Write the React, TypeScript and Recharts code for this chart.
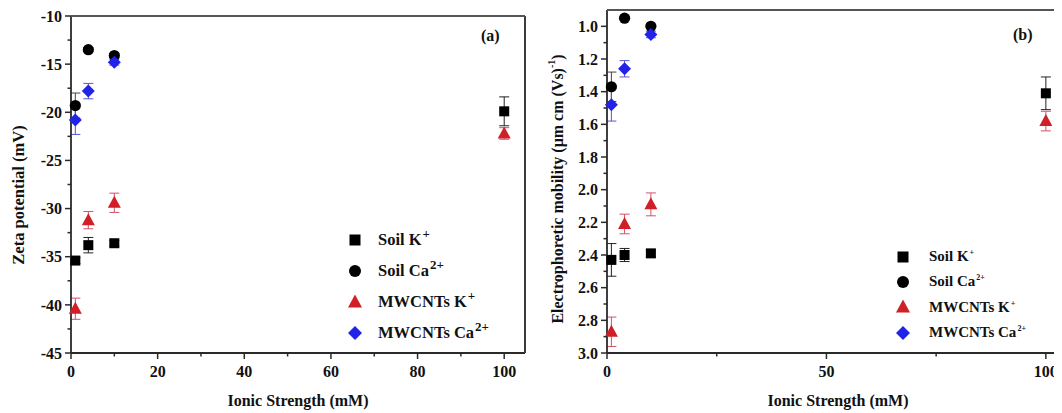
import React from 'react';
import { ScatterChart, Scatter, XAxis, YAxis, ErrorBar, Legend, ReferenceLine } from 'recharts';

const FONT = '"Liberation Serif", "Times New Roman", serif';
const RED = '#d01f26';
const BLUE = '#2323e8';
const AXIS = '#2a2a2a';

// ---- Panel (a): zeta potential ----
const ionicK = [1, 4, 10, 100];
const ionicCa = [1, 4, 10];
const soilKZeta = [-35.4, -33.8, -33.6, -19.9];
const soilKZetaErr = [0.3, 0.8, 0.3, 1.5];
const soilCaZeta = [-19.3, -13.5, -14.1];
const soilCaZetaErr = [1.3, 0.2, 0.2];
const mwKZeta = [-40.4, -31.2, -29.4, -22.2];
const mwKZetaErr = [1.1, 0.9, 1.0, 0.6];
const mwCaZeta = [-20.8, -17.8, -14.8];
const mwCaZetaErr = [1.5, 0.8, 0.3];

// ---- Panel (b): electrophoretic mobility ----
const soilKMob = [2.43, 2.4, 2.39, 1.41];
const soilKMobErr = [0.1, 0.04, 0.02, 0.1];
const soilCaMob = [1.37, 0.95, 1.0];
const soilCaMobErr = [0.09, 0.01, 0.01];
const mwKMob = [2.87, 2.21, 2.09, 1.58];
const mwKMobErr = [0.09, 0.06, 0.07, 0.06];
const mwCaMob = [1.48, 1.26, 1.05];
const mwCaMobErr = [0.1, 0.05, 0.02];

// ---- ticks ----
const xMajorA = [0, 20, 40, 60, 80, 100];
const xMinorA = [10, 30, 50, 70, 90];
const yMajorA = [-10, -15, -20, -25, -30, -35, -40, -45];
const yMinorA = [-12.5, -17.5, -22.5, -27.5, -32.5, -37.5, -42.5];
const xMajorB = [0, 50, 100];
const xMinorB = [25, 75];
const yMajorB = [1.0, 1.2, 1.4, 1.6, 1.8, 2.0, 2.2, 2.4, 2.6, 2.8, 3.0];
const yMinorB = [1.1, 1.3, 1.5, 1.7, 1.9, 2.1, 2.3, 2.5, 2.7, 2.9];

// layout constants for each panel (chart box and plot margins)
const CHART_W = 540;
const CHART_H = 413;
const X_H = 60;
const A_MARGIN = { top: 16, right: 15, bottom: 0, left: 0 };
const A_YW = 71;
const B_MARGIN = { top: 10, right: 10, bottom: 0, left: 0 };
const B_YW = 67;
const A_PLOT_W = CHART_W - A_MARGIN.right - A_MARGIN.left - A_YW;
const A_PLOT_H = CHART_H - X_H - A_MARGIN.top;
const B_PLOT_W = CHART_W - B_MARGIN.right - B_MARGIN.left - B_YW;

const build = (xs: number[], ys: number[], es: number[]) =>
  xs.map((x, i) => ({ x, y: ys[i], e: es[i] }));

const near = (a: number, b: number) => Math.abs(a - b) < 1e-6;
const isMajor = (majors: number[], v: number) => majors.some((m) => near(m, v));
const sortNum = (...lists: number[][]) => ([] as number[]).concat(...lists).sort((p, q) => p - q);

type Frame = { topVal: number; bottomVal?: number; plotW: number; plotH?: number };

const makeYTick = (majors: number[], fmt: (v: number) => string, frame: Frame) => (props: any) => {
  const { x, y, payload } = props;
  const v = payload.value as number;
  const major = isMajor(majors, v);
  const isTopFrame = near(v, frame.topVal);
  const isBottomFrame = frame.bottomVal !== undefined && near(v, frame.bottomVal);
  const onlyFrame = isTopFrame && !major;
  return (
    <g>
      {!onlyFrame && (
        <line x1={x} x2={x - (major ? 6 : 3.5)} y1={y} y2={y} stroke={AXIS} strokeWidth={1.5} />
      )}
      {isTopFrame && <line x1={x} x2={x + frame.plotW} y1={y} y2={y} stroke="#555" strokeWidth={2.2} />}
      {isBottomFrame && frame.plotH !== undefined && (
        <line x1={x + frame.plotW} x2={x + frame.plotW} y1={y} y2={y - frame.plotH} stroke="#3a3a3a" strokeWidth={1.8} />
      )}
      {major && (
        <text x={x - 9} y={y} dy="0.36em" textAnchor="end" fontFamily={FONT} fontWeight="bold" fontSize={16} fill="#111">
          {fmt(v)}
        </text>
      )}
    </g>
  );
};

const makeXTick = (majors: number[]) => (props: any) => {
  const { x, y, payload } = props;
  const major = isMajor(majors, payload.value);
  return (
    <g>
      <line x1={x} x2={x} y1={y} y2={y + (major ? 6 : 3.5)} stroke={AXIS} strokeWidth={1.5} />
      {major && (
        <text x={x} y={y + 24} textAnchor="middle" fontFamily={FONT} fontWeight="bold" fontSize={16} fill="#111">
          {payload.value}
        </text>
      )}
    </g>
  );
};

const SquareShape = (p: any) => <rect x={p.cx - 5} y={p.cy - 5} width={10} height={10} fill="#000" />;
const CircleShape = (p: any) => <circle cx={p.cx} cy={p.cy} r={5.6} fill="#000" />;
const TriShape = (p: any) => (
  <polygon points={`${p.cx},${p.cy - 7} ${p.cx + 6.5},${p.cy + 5} ${p.cx - 6.5},${p.cy + 5}`} fill={RED} />
);
const DiamondShape = (p: any) => (
  <polygon points={`${p.cx},${p.cy - 6.5} ${p.cx + 6.5},${p.cy} ${p.cx},${p.cy + 6.5} ${p.cx - 6.5},${p.cy}`} fill={BLUE} />
);

const legendIcons = [
  <rect key="s" x={6.5} y={6.5} width={11} height={11} fill="#000" />,
  <circle key="c" cx={12} cy={12} r={6} fill="#000" />,
  <polygon key="t" points="12,4.5 19,17.5 5,17.5" fill={RED} />,
  <polygon key="d" points="12,5 19,12 12,19 5,12" fill={BLUE} />,
];

const legendBase = ['Soil K', 'Soil Ca', 'MWCNTs K', 'MWCNTs Ca'];
const legendSup = ['+', '2+', '+', '2+'];

const makeLegend = (rowH: number, fontSize: number, supSize: number, supRaise: number, gap: number) => () => (
  <div style={{ fontFamily: FONT, fontWeight: 'bold', color: '#111' }}>
    {legendBase.map((t, i) => (
      <div key={t} style={{ display: 'flex', alignItems: 'center', height: rowH }}>
        <svg width={24} height={24} style={{ display: 'block' }}>{legendIcons[i]}</svg>
        <span style={{ marginLeft: gap, fontSize, whiteSpace: 'nowrap' }}>
          {t}
          <span style={{ fontSize: supSize, position: 'relative', top: -supRaise, marginLeft: 1 }}>{legendSup[i]}</span>
        </span>
      </div>
    ))}
  </div>
);

const ZetaLabel = () => (
  <text x={18} y={195} transform="rotate(-90 18 195)" textAnchor="middle" dominantBaseline="central" fontFamily={FONT} fontWeight="bold" fontSize={16.5} fill="#111">
    Zeta potential (mV)
  </text>
);

const MobLabel = () => (
  <text x={17} y={189} transform="rotate(-90 17 189)" textAnchor="middle" dominantBaseline="central" fontFamily={FONT} fontWeight="bold" fontSize={16} fill="#111">
    Electrophoretic mobility (μm cm (Vs)
    <tspan fontSize={10} dy={-6}>-1</tspan>
    <tspan dy={6}>)</tspan>
  </text>
);

const XLabel = () => (
  <text x={298} y={406} textAnchor="middle" fontFamily={FONT} fontWeight="bold" fontSize={16} fill="#111">
    Ionic Strength (mM)
  </text>
);

export default function App() {
  const dataSoilKA = build(ionicK, soilKZeta, soilKZetaErr);
  const dataSoilCaA = build(ionicCa, soilCaZeta, soilCaZetaErr);
  const dataMwKA = build(ionicK, mwKZeta, mwKZetaErr);
  const dataMwCaA = build(ionicCa, mwCaZeta, mwCaZetaErr);
  const dataSoilKB = build(ionicK, soilKMob, soilKMobErr);
  const dataSoilCaB = build(ionicCa, soilCaMob, soilCaMobErr);
  const dataMwKB = build(ionicK, mwKMob, mwKMobErr);
  const dataMwCaB = build(ionicCa, mwCaMob, mwCaMobErr);

  const domA: [number, number] = [0, 104.8];
  const domB: [number, number] = [0, 105.5];
  const yDomA: [number, number] = [-45, -10];
  const yDomB: [number, number] = [0.9, 3.0];

  return (
    <div style={{ position: 'relative', left: -8, top: -8, width: 1062, height: 413, overflow: 'hidden', background: '#fff' }}>
      {/* Panel (a) */}
      <div style={{ position: 'absolute', left: 0, top: 0, width: CHART_W, height: CHART_H }}>
        <ScatterChart width={CHART_W} height={CHART_H} margin={A_MARGIN}>
          <XAxis
            dataKey="x" type="number" domain={domA}
            ticks={sortNum(xMajorA, xMinorA)} interval={0}
            tick={makeXTick(xMajorA)} tickLine={false} tickSize={0} tickMargin={0}
            height={X_H} axisLine={{ stroke: AXIS, strokeWidth: 1.8 }}
            label={<XLabel />}
          />
          <YAxis
            dataKey="y" type="number" domain={yDomA}
            ticks={sortNum(yMajorA, yMinorA)} interval={0}
            tick={makeYTick(yMajorA, (v) => String(v), { topVal: yDomA[1], bottomVal: yDomA[0], plotW: A_PLOT_W, plotH: A_PLOT_H })}
            tickLine={false} tickSize={0} tickMargin={0}
            width={A_YW} axisLine={{ stroke: AXIS, strokeWidth: 1.8 }}
            label={<ZetaLabel />}
          />
          <ReferenceLine y={yDomA[1]} stroke="#555" strokeWidth={2.2} />
          <ReferenceLine x={domA[1]} stroke="#3a3a3a" strokeWidth={1.8} />
          <Scatter name="Soil K+" data={dataSoilKA} shape={SquareShape} isAnimationActive={false}>
            <ErrorBar dataKey="e" direction="y" width={5} stroke="#222" strokeWidth={1} />
          </Scatter>
          <Scatter name="Soil Ca2+" data={dataSoilCaA} shape={CircleShape} isAnimationActive={false}>
            <ErrorBar dataKey="e" direction="y" width={5} stroke="#444" strokeWidth={1} />
          </Scatter>
          <Scatter name="MWCNTs K+" data={dataMwKA} shape={TriShape} isAnimationActive={false}>
            <ErrorBar dataKey="e" direction="y" width={5} stroke="#d2506a" strokeWidth={1} />
          </Scatter>
          <Scatter name="MWCNTs Ca2+" data={dataMwCaA} shape={DiamondShape} isAnimationActive={false}>
            <ErrorBar dataKey="e" direction="y" width={5} stroke="#5555d8" strokeWidth={1} />
          </Scatter>
          <Legend
            layout="vertical" align="center" verticalAlign="middle"
            content={makeLegend(31, 16.5, 13, 7, 11)}
            wrapperStyle={{ left: 343, top: 224, width: 180, height: 124 }}
          />
        </ScatterChart>
        <div style={{ position: 'absolute', left: 481, top: 27, fontFamily: FONT, fontWeight: 'bold', fontSize: 16, color: '#111' }}>(a)</div>
      </div>

      {/* Panel (b) */}
      <div style={{ position: 'absolute', left: CHART_W, top: 0, width: CHART_W, height: CHART_H }}>
        <ScatterChart width={CHART_W} height={CHART_H} margin={B_MARGIN}>
          <XAxis
            dataKey="x" type="number" domain={domB}
            ticks={sortNum(xMajorB, xMinorB)} interval={0}
            tick={makeXTick(xMajorB)} tickLine={false} tickSize={0} tickMargin={0}
            height={X_H} axisLine={{ stroke: AXIS, strokeWidth: 1.8 }}
            label={<XLabel />}
          />
          <YAxis
            dataKey="y" type="number" domain={yDomB} reversed
            ticks={sortNum([yDomB[0]], yMajorB, yMinorB)} interval={0}
            tick={makeYTick(yMajorB, (v) => v.toFixed(1), { topVal: yDomB[0], plotW: B_PLOT_W })}
            tickLine={false} tickSize={0} tickMargin={0}
            width={B_YW} axisLine={{ stroke: AXIS, strokeWidth: 1.8 }}
            label={<MobLabel />}
          />
          <ReferenceLine y={yDomB[0]} stroke="#555" strokeWidth={2.2} />
          <Scatter name="Soil K+" data={dataSoilKB} shape={SquareShape} isAnimationActive={false}>
            <ErrorBar dataKey="e" direction="y" width={5} stroke="#222" strokeWidth={1} />
          </Scatter>
          <Scatter name="Soil Ca2+" data={dataSoilCaB} shape={CircleShape} isAnimationActive={false}>
            <ErrorBar dataKey="e" direction="y" width={5} stroke="#444" strokeWidth={1} />
          </Scatter>
          <Scatter name="MWCNTs K+" data={dataMwKB} shape={TriShape} isAnimationActive={false}>
            <ErrorBar dataKey="e" direction="y" width={5} stroke="#d2506a" strokeWidth={1} />
          </Scatter>
          <Scatter name="MWCNTs Ca2+" data={dataMwCaB} shape={DiamondShape} isAnimationActive={false}>
            <ErrorBar dataKey="e" direction="y" width={5} stroke="#5555d8" strokeWidth={1} />
          </Scatter>
          <Legend
            layout="vertical" align="center" verticalAlign="middle"
            content={makeLegend(25.3, 15, 8, 6, 14)}
            wrapperStyle={{ left: 351, top: 244, width: 180, height: 102 }}
          />
        </ScatterChart>
        <div style={{ position: 'absolute', left: 473, top: 26, fontFamily: FONT, fontWeight: 'bold', fontSize: 16, color: '#111' }}>(b)</div>
      </div>
    </div>
  );
}
